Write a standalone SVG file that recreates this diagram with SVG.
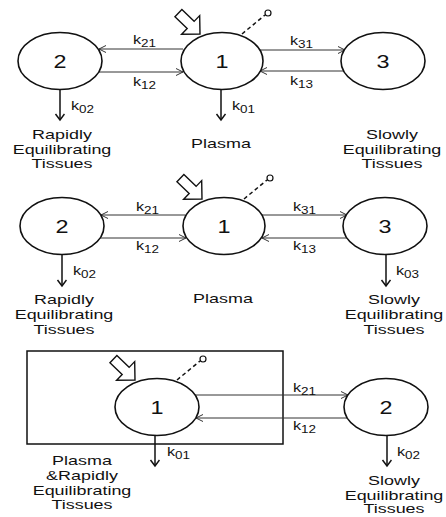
<svg xmlns="http://www.w3.org/2000/svg" xmlns:xlink="http://www.w3.org/1999/xlink" width="446" height="517" viewBox="0 0 446 517">
<style>
.node{fill:#fff;stroke:#111;stroke-width:1.6}
.num{font-family:"Liberation Sans",Arial,sans-serif;font-size:18px;fill:#111;text-anchor:middle}
.lbl{font-family:"Liberation Sans",Arial,sans-serif;font-size:13px;fill:#111;text-anchor:middle}
.k{font-family:"Liberation Sans",Arial,sans-serif;font-size:12px;fill:#111}
.sub{font-size:10px}
.h{stroke:#333;stroke-width:1;fill:none;marker-end:url(#ah)}
.v{stroke:#111;stroke-width:1.5;fill:none;marker-end:url(#av)}
.dash{stroke:#111;stroke-width:1.5;stroke-dasharray:4 3;fill:none}
.dot{fill:#fff;stroke:#111;stroke-width:1.2}
.big{fill:#fff;stroke:#111;stroke-width:1.4;stroke-linejoin:miter}
.box{fill:none;stroke:#111;stroke-width:1.5}
</style>
<defs>
<marker id="ah" markerUnits="userSpaceOnUse" markerWidth="10" markerHeight="10" refX="8" refY="4" orient="auto">
<path d="M1,0.5 L8,4 L1,7.5" fill="none" stroke="#333" stroke-width="1"/>
</marker>
<marker id="av" markerUnits="userSpaceOnUse" markerWidth="12" markerHeight="12" refX="7" refY="5" orient="auto">
<path d="M1,0.5 L7,5 L1,9.5" fill="none" stroke="#111" stroke-width="1.5"/>
</marker>
<polygon id="bigArrow" class="big" points="0,0 -13,-13 -13,-5 -30,-5 -30,5 -13,5 -13,13"/>
<g id="iv">
<line class="dash" x1="20" y1="-27" x2="43" y2="-46"/>
<circle class="dot" cx="46" cy="-48" r="3"/>
</g>
</defs>

<g id="box3">
<rect class="box" x="27" y="351" width="256" height="93"/>
</g>

<g id="connectors">
<line class="h" x1="183" y1="49" x2="99" y2="49"/>
<line class="h" x1="99" y1="72" x2="183" y2="72"/>
<line class="h" x1="260" y1="50" x2="345" y2="50"/>
<line class="h" x1="345" y1="71" x2="260" y2="71"/>
<line class="v" x1="60" y1="90" x2="60" y2="120"/>
<line class="v" x1="221" y1="90" x2="221" y2="120"/>
<line class="h" x1="185" y1="215" x2="101" y2="215"/>
<line class="h" x1="100" y1="238" x2="186" y2="238"/>
<line class="h" x1="262" y1="215" x2="347" y2="215"/>
<line class="h" x1="347" y1="238" x2="262" y2="238"/>
<line class="v" x1="62" y1="255" x2="62" y2="286"/>
<line class="v" x1="386" y1="255" x2="386" y2="286"/>
<line class="h" x1="195" y1="395" x2="348" y2="395"/>
<line class="h" x1="347" y1="418" x2="196" y2="418"/>
<line class="v" x1="155" y1="436" x2="155" y2="466"/>
<line class="v" x1="387" y1="436" x2="387" y2="466"/>
<use xlink:href="#bigArrow" transform="translate(200,34) rotate(44)"/>
<use xlink:href="#iv" transform="translate(222,61)"/>
<use xlink:href="#bigArrow" transform="translate(202,199) rotate(44)"/>
<use xlink:href="#iv" transform="translate(224,226)"/>
<use xlink:href="#bigArrow" transform="translate(135,380) rotate(44)"/>
<use xlink:href="#iv" transform="translate(157,407)"/>
</g>

<g id="labels">
<text class="k" transform="translate(133,44) scale(1.35,1)">k<tspan class="sub" dy="3">21</tspan></text>
<text class="k" transform="translate(133,86) scale(1.35,1)">k<tspan class="sub" dy="3">12</tspan></text>
<text class="k" transform="translate(290,45) scale(1.35,1)">k<tspan class="sub" dy="3">31</tspan></text>
<text class="k" transform="translate(290,85) scale(1.35,1)">k<tspan class="sub" dy="3">13</tspan></text>
<text class="k" transform="translate(71,110) scale(1.35,1)">k<tspan class="sub" dy="3">02</tspan></text>
<text class="k" transform="translate(232,110) scale(1.35,1)">k<tspan class="sub" dy="3">01</tspan></text>
<text class="k" transform="translate(136,211) scale(1.35,1)">k<tspan class="sub" dy="3">21</tspan></text>
<text class="k" transform="translate(136,250) scale(1.35,1)">k<tspan class="sub" dy="3">12</tspan></text>
<text class="k" transform="translate(293,211) scale(1.35,1)">k<tspan class="sub" dy="3">31</tspan></text>
<text class="k" transform="translate(293,250) scale(1.35,1)">k<tspan class="sub" dy="3">13</tspan></text>
<text class="k" transform="translate(73,275) scale(1.35,1)">k<tspan class="sub" dy="3">02</tspan></text>
<text class="k" transform="translate(396,275) scale(1.35,1)">k<tspan class="sub" dy="3">03</tspan></text>
<text class="k" transform="translate(293,392) scale(1.35,1)">k<tspan class="sub" dy="3">21</tspan></text>
<text class="k" transform="translate(293,430) scale(1.35,1)">k<tspan class="sub" dy="3">12</tspan></text>
<text class="k" transform="translate(167,456) scale(1.35,1)">k<tspan class="sub" dy="3">01</tspan></text>
<text class="k" transform="translate(397,456) scale(1.35,1)">k<tspan class="sub" dy="3">02</tspan></text>
</g>

<g id="r1-n2"><ellipse class="node" cx="60" cy="61" rx="42" ry="28.5"/><text class="num" transform="translate(60,68) scale(1.3,1)">2</text></g>
<g id="r1-n1"><ellipse class="node" cx="222" cy="61" rx="41" ry="28.5"/><text class="num" transform="translate(222,68) scale(1.3,1)">1</text></g>
<g id="r1-n3"><ellipse class="node" cx="383" cy="61" rx="42" ry="28.5"/><text class="num" transform="translate(383,68) scale(1.3,1)">3</text></g>
<g id="r2-n2"><ellipse class="node" cx="62" cy="226" rx="42" ry="28.5"/><text class="num" transform="translate(62,233) scale(1.3,1)">2</text></g>
<g id="r2-n1"><ellipse class="node" cx="224" cy="226" rx="41" ry="28.5"/><text class="num" transform="translate(224,233) scale(1.3,1)">1</text></g>
<g id="r2-n3"><ellipse class="node" cx="385" cy="226" rx="42" ry="28.5"/><text class="num" transform="translate(385,233) scale(1.3,1)">3</text></g>
<g id="r3-n1"><ellipse class="node" cx="157" cy="407" rx="42" ry="28.5"/><text class="num" transform="translate(157,414) scale(1.3,1)">1</text></g>
<g id="r3-n2"><ellipse class="node" cx="386" cy="407" rx="42" ry="28.5"/><text class="num" transform="translate(386,414) scale(1.3,1)">2</text></g>

<g id="captions">
<text class="lbl" transform="translate(62,139) scale(1.38,1)"><tspan x="0" y="0">Rapidly</tspan><tspan x="0" y="15">Equilibrating</tspan><tspan x="0" y="29">Tissues</tspan></text>
<text class="lbl" transform="translate(221,148) scale(1.38,1)">Plasma</text>
<text class="lbl" transform="translate(392,139) scale(1.38,1)"><tspan x="0" y="0">Slowly</tspan><tspan x="0" y="15">Equilibrating</tspan><tspan x="0" y="29">Tissues</tspan></text>
<text class="lbl" transform="translate(64,304) scale(1.38,1)"><tspan x="0" y="0">Rapidly</tspan><tspan x="0" y="15">Equilibrating</tspan><tspan x="0" y="30">Tissues</tspan></text>
<text class="lbl" transform="translate(223,303) scale(1.38,1)">Plasma</text>
<text class="lbl" transform="translate(394,304) scale(1.38,1)"><tspan x="0" y="0">Slowly</tspan><tspan x="0" y="15">Equilibrating</tspan><tspan x="0" y="30">Tissues</tspan></text>
<text class="lbl" transform="translate(82,465) scale(1.38,1)"><tspan x="0" y="0">Plasma</tspan><tspan x="0" y="15">&amp;Rapidly</tspan><tspan x="0" y="30">Equilibrating</tspan><tspan x="0" y="44">Tissues</tspan></text>
<text class="lbl" transform="translate(394,485) scale(1.38,1)"><tspan x="0" y="0">Slowly</tspan><tspan x="0" y="15">Equilibrating</tspan><tspan x="0" y="28">Tissues</tspan></text>
</g>
</svg>
